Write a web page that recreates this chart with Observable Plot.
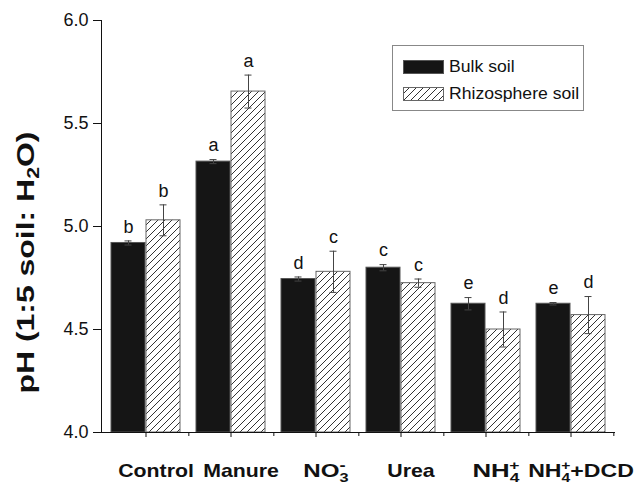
<!DOCTYPE html>
<html>
<head>
<meta charset="utf-8">
<script src="https://cdn.jsdelivr.net/npm/d3@7"></script>
<script src="https://cdn.jsdelivr.net/npm/@observablehq/plot@0.6"></script>
<style>
  html, body { margin: 0; padding: 0; background: #fff; }
  #wrap { position: relative; width: 641px; height: 484px; font-family: "Liberation Sans", Arial, sans-serif; }
  #legend { position: absolute; left: 392px; top: 45px; width: 192px; height: 66px; border: 1px solid #888; background: #fff; box-sizing: border-box; }
  .row { position: absolute; left: 10px; display: flex; align-items: center; font-size: 16px; color: #111; white-space: nowrap; }
  .row svg { margin-right: 5px; display: block; }
  .row span { display: inline-block; transform: scaleX(1.1); transform-origin: left center; }
</style>
</head>
<body>
<div id="wrap"></div>
<script>
// ---- data ----
const categories = ["Control", "Manure", "NO3-", "Urea", "NH4+", "NH4+DCD"];
const bulkValues = [4.92, 5.315, 4.745, 4.80, 4.625, 4.625];
const bulkErrors = [0.01, 0.01, 0.01, 0.015, 0.03, 0.006];
const rhizoValues = [5.03, 5.655, 4.78, 4.725, 4.50, 4.57];
const rhizoErrors = [0.075, 0.08, 0.10, 0.02, 0.085, 0.09];
const bulkLetters = ["b", "a", "d", "c", "e", "e"];
const rhizoLetters = ["b", "a", "c", "c", "d", "d"];
const yTicks = [4.0, 4.5, 5.0, 5.5, 6.0];
const seriesNames = ["Bulk soil", "Rhizosphere soil"];
const yTitle = "pH (1:5 soil: H2O)";

const bulk = categories.map((c, i) => ({cat: c, v: bulkValues[i], e: bulkErrors[i], letter: bulkLetters[i]}));
const rhizo = categories.map((c, i) => ({cat: c, v: rhizoValues[i], e: rhizoErrors[i], letter: rhizoLetters[i]}));

const half = 17.5;
const errStroke = "#444";

const plot = Plot.plot({
  width: 641,
  height: 484,
  marginLeft: 101,
  marginRight: 26,
  marginTop: 20,
  marginBottom: 52,
  style: {fontFamily: "Liberation Sans, Arial, sans-serif", background: "transparent", color: "#111"},
  x: {domain: categories, paddingInner: 0.183, paddingOuter: 0.0915, label: null},
  y: {domain: [4, 6], label: null},
  marks: [
    Plot.barY(bulk, {x: "cat", y1: 4, y2: "v", insetRight: 35, fill: "#151515", stroke: "#555", strokeWidth: 1}),
    Plot.barY(rhizo, {x: "cat", y1: 4, y2: "v", insetLeft: 35, fill: "url(#hatch)", stroke: "#666", strokeWidth: 1}),
    Plot.ruleX(bulk, {x: "cat", dx: -half, y1: d => d.v - d.e, y2: d => d.v + d.e, stroke: errStroke}),
    Plot.ruleX(rhizo, {x: "cat", dx: half, y1: d => d.v - d.e, y2: d => d.v + d.e, stroke: errStroke}),
    Plot.tickY(bulk, {x: "cat", y: d => d.v + d.e, insetLeft: 13.5, insetRight: 48.5, stroke: errStroke}),
    Plot.tickY(bulk, {x: "cat", y: d => d.v - d.e, insetLeft: 13.5, insetRight: 48.5, stroke: errStroke}),
    Plot.tickY(rhizo, {x: "cat", y: d => d.v + d.e, insetLeft: 48.5, insetRight: 13.5, stroke: errStroke}),
    Plot.tickY(rhizo, {x: "cat", y: d => d.v - d.e, insetLeft: 48.5, insetRight: 13.5, stroke: errStroke}),
    Plot.text(bulk, {x: "cat", dx: -half, y: d => d.v + d.e, dy: -14, text: "letter", fontSize: 18, fill: "#111"}),
    Plot.text(rhizo, {x: "cat", dx: half, y: d => d.v + d.e, dy: -14, text: "letter", fontSize: 18, fill: "#111"}),
    Plot.ruleY([4], {stroke: "#111"}),
    Plot.frame({anchor: "left", stroke: "#111"}),
    Plot.axisY({ticks: yTicks, tickFormat: d3.format(".1f"), tickSize: 8, tickPadding: 5, fontSize: 18, label: null}),
    Plot.axisX({tickSize: 5, tickFormat: () => "", label: null}),
    Plot.axisX({tickSize: 4, dx: 42.83, tickFormat: () => "", label: null}),
    Plot.axisX({tickSize: 0, tickPadding: 31, dx: 10, fontSize: 18.5, fontWeight: "bold", label: null, className: "xlabels"}),
    Plot.text([yTitle], {frameAnchor: "left", rotate: -90, textAnchor: "start", dx: -75, dy: 167, fontSize: 24, fontWeight: "bold", fill: "#111", className: "ytitle"})
  ]
});

// hatch pattern
plot.insertAdjacentHTML("afterbegin",
  `<defs><pattern id="hatch" patternUnits="userSpaceOnUse" width="7" height="7">
     <rect width="7" height="7" fill="#fff"/>
     <path d="M0,7 L7,0 M-1,1 L1,-1 M6,8 L8,6" stroke="#333" stroke-width="1"/>
   </pattern></defs>`);

// rich text (sub/superscripts)
const rich = {
  "NO3-": 'NO<tspan font-size="12.5" dy="5">3</tspan><tspan font-size="14" dx="-7" dy="-12">-</tspan>',
  "NH4+": 'NH<tspan font-size="12.5" dy="5">4</tspan><tspan font-size="12.5" dx="-7.2" dy="-12">+</tspan>',
  "NH4+DCD": 'NH<tspan font-size="12.5" dy="5">4</tspan><tspan font-size="12.5" dx="-7.2" dy="-12">+</tspan><tspan dy="7">+DCD</tspan>',
  "pH (1:5 soil: H2O)": 'pH (1:5 soil: H<tspan font-size="16" dy="5">2</tspan><tspan dy="-5">O)</tspan>'
};
plot.querySelectorAll("text").forEach(t => {
  const k = t.textContent;
  if (rich[k]) t.innerHTML = rich[k];
});

const wrap = document.getElementById("wrap");
wrap.appendChild(plot);

// widen glyphs to match the reference's broader lettering
plot.querySelectorAll(".xlabels text").forEach(t => {
  const L = t.getComputedTextLength();
  if (L > 0) { t.setAttribute("textLength", L * 1.15); t.setAttribute("lengthAdjust", "spacingAndGlyphs"); }
});
plot.querySelectorAll(".ytitle text").forEach(t => {
  t.setAttribute("textLength", 262); t.setAttribute("lengthAdjust", "spacingAndGlyphs");
});

// legend
const legend = document.createElement("div");
legend.id = "legend";
legend.innerHTML = `
  <div class="row" style="top:12px"><svg width="41" height="14"><rect x="0.5" y="0.5" width="40" height="13" fill="#151515" stroke="#555"/></svg><span>${seriesNames[0]}</span></div>
  <div class="row" style="top:39px"><svg width="41" height="14"><defs><pattern id="hatch2" patternUnits="userSpaceOnUse" width="7" height="7"><rect width="7" height="7" fill="#fff"/><path d="M0,7 L7,0 M-1,1 L1,-1 M6,8 L8,6" stroke="#333" stroke-width="1"/></pattern></defs><rect x="0.5" y="0.5" width="40" height="13" fill="url(#hatch2)" stroke="#666"/></svg><span>${seriesNames[1]}</span></div>`;
wrap.appendChild(legend);
</script>
</body>
</html>
